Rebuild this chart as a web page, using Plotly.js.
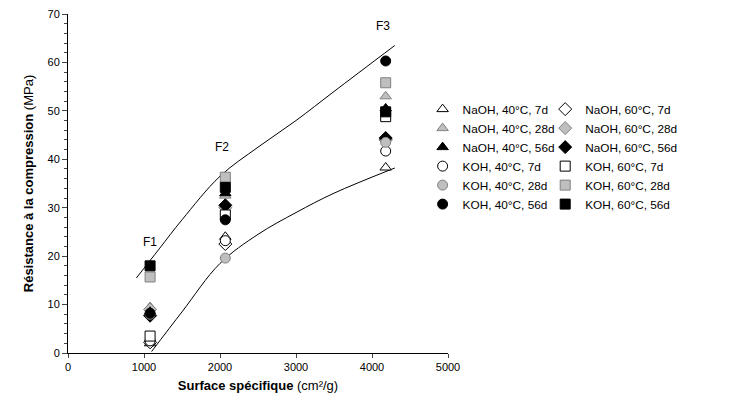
<!DOCTYPE html><html><head><script src="https://cdn.plot.ly/plotly-3.0.1.min.js"></script></head><body style="margin:0"><div id="c" style="width:752px;height:415px"></div><script>
const xs=[1080,2070,4180];
const names=["NaOH, 40°C, 7d","NaOH, 60°C, 7d","NaOH, 40°C, 28d","NaOH, 60°C, 28d","NaOH, 40°C, 56d","NaOH, 60°C, 56d","KOH, 40°C, 7d","KOH, 60°C, 7d","KOH, 40°C, 28d","KOH, 60°C, 28d","KOH, 40°C, 56d","KOH, 60°C, 56d"];
const vals=[[2,24,38.3],[2.2,22.5,44],[9.5,32.5,53],[9,30,44],[8.5,33,50.5],[7.7,30.5,44.4],[2.5,23.2,41.7],[3.5,28.5,48.8],[8,19.6,43.5],[15.7,36.3,55.8],[8.2,27.5,60.3],[18,34.2,49.8]];
const symbols=["triangle-up","diamond","triangle-up","diamond","triangle-up","diamond","circle","square","circle","square","circle","square"];
const fills=["white","white","#bfbfbf","#bfbfbf","black","black","white","white","#bfbfbf","#bfbfbf","black","black"];
const upperX=[900,1200,1500,2000,2500,3000,3500,4300];
const upperY=[15.5,21.5,27.5,36.5,42.5,48,54,63.5];
const lowerX=[1100,1500,2000,2500,3000,3500,4300];
const lowerY=[0.3,8.5,18.5,24.5,29,33,38.2];
const traces=[
{x:upperX,y:upperY,mode:'lines',line:{color:'black',width:1,shape:'spline'},showlegend:false,hoverinfo:'skip'},
{x:lowerX,y:lowerY,mode:'lines',line:{color:'black',width:1,shape:'spline'},showlegend:false,hoverinfo:'skip'}];
names.forEach((n,i)=>traces.push({x:xs,y:vals[i],name:n,mode:'markers',legend:i%2==0?'legend':'legend2',marker:{symbol:symbols[i],size:10,color:fills[i],line:{color:fills[i]=='#bfbfbf'?'#808080':'black',width:1}}}));
const lg={xref:'container',yref:'container',y:0.772,xanchor:'left',yanchor:'top',font:{size:11.8},tracegroupgap:0,itemwidth:30,bgcolor:'rgba(0,0,0,0)'};
Plotly.newPlot('c',traces,{width:752,height:415,margin:{l:68,r:304,t:14,b:62,autoexpand:false},paper_bgcolor:'white',plot_bgcolor:'white',
font:{family:'Arial, Liberation Sans',size:11,color:'black'},
xaxis:{range:[0,5000],dtick:1000,showgrid:false,zeroline:false,showline:true,linecolor:'black',ticks:'outside',ticklen:4,
title:{text:'<b>Surface spécifique</b> (cm²/g)',font:{size:13},standoff:8}},
yaxis:{range:[0,70],dtick:10,showgrid:false,zeroline:false,showline:true,linecolor:'black',ticks:'outside',ticklen:5,minor:{dtick:2,ticks:'outside',ticklen:3},
title:{text:'<b>Résistance à la compression</b> (MPa)',font:{size:13},standoff:10}},
legend:Object.assign({x:0.562},lg),
legend2:Object.assign({x:0.725},lg),
annotations:[{x:1080,y:23,text:'F1',showarrow:false,font:{size:12}},{x:2030,y:42.5,text:'F2',showarrow:false,font:{size:12}},{x:4150,y:67.5,text:'F3',showarrow:false,font:{size:12}}]
},{displayModeBar:false});
</script></body></html>
